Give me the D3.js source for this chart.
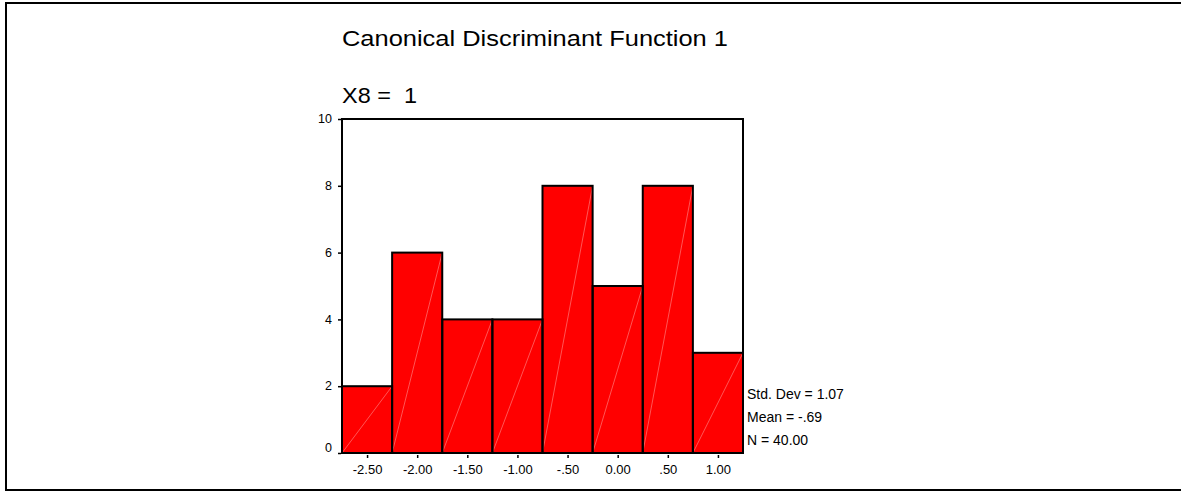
<!DOCTYPE html>
<html>
<head>
<meta charset="utf-8">
<script src="https://cdn.jsdelivr.net/npm/d3@7"></script>
<style>
  html, body { margin: 0; padding: 0; background: #fff; }
  svg { display: block; font-family: "Liberation Sans", Arial, sans-serif; }
</style>
</head>
<body>
<svg id="chart" width="1181" height="492"></svg>
<script>
// ---- data ----
const binCenters = [-2.5, -2.0, -1.5, -1.0, -0.5, 0.0, 0.5, 1.0];
const counts = [2, 6, 4, 4, 8, 5, 8, 3];
const xTickLabels = ["-2.50", "-2.00", "-1.50", "-1.00", "-.50", "0.00", ".50", "1.00"];
const yTicks = [0, 2, 4, 6, 8, 10];
const binWidth = 0.5;
const titleText = "Canonical Discriminant Function 1";
const subtitleText = "X8 =  1";
const statsLines = ["Std. Dev = 1.07", "Mean = -.69", "N = 40.00"];

// ---- layout ----
const svg = d3.select("#chart");
const plot = { left: 342, right: 743, top: 119, bottom: 453 };

const x = d3.scaleLinear()
  .domain([binCenters[0] - binWidth / 2, binCenters[binCenters.length - 1] + binWidth / 2])
  .range([plot.left, plot.right]);
const y = d3.scaleLinear().domain([0, 10]).range([plot.bottom, plot.top]);

// outer frame
svg.append("rect")
  .attr("x", 6).attr("y", 3).attr("width", 1190).attr("height", 487)
  .attr("fill", "none").attr("stroke", "#000").attr("stroke-width", 2);

// titles
svg.append("text").attr("x", 342).attr("y", 46)
  .attr("font-size", 22).attr("fill", "#000")
  .attr("textLength", 386).attr("lengthAdjust", "spacingAndGlyphs")
  .text(titleText);
svg.append("text").attr("x", 342).attr("y", 103)
  .attr("font-size", 22).attr("fill", "#000")
  .style("white-space", "pre")
  .attr("textLength", 75).attr("lengthAdjust", "spacingAndGlyphs")
  .text(subtitleText);

// bars
const bins = binCenters.map((c, i) => ({ x0: c - binWidth / 2, x1: c + binWidth / 2, n: counts[i] }));
const g = svg.append("g");
g.selectAll("rect.bar").data(bins).enter().append("rect")
  .attr("class", "bar")
  .attr("x", d => x(d.x0))
  .attr("y", d => y(d.n))
  .attr("width", d => x(d.x1) - x(d.x0))
  .attr("height", d => y(0) - y(d.n))
  .attr("fill", "#ff0000");
// faint diagonal hatch lines
g.selectAll("line.diag").data(bins).enter().append("line")
  .attr("class", "diag")
  .attr("x1", d => x(d.x0)).attr("y1", y(0))
  .attr("x2", d => x(d.x1)).attr("y2", d => y(d.n))
  .attr("stroke", "#ff8f8f").attr("stroke-width", 0.6);
g.selectAll("rect.barOutline").data(bins).enter().append("rect")
  .attr("class", "barOutline")
  .attr("x", d => x(d.x0))
  .attr("y", d => y(d.n))
  .attr("width", d => x(d.x1) - x(d.x0))
  .attr("height", d => y(0) - y(d.n))
  .attr("fill", "none").attr("stroke", "#000").attr("stroke-width", 2);

// plot frame
svg.append("rect")
  .attr("x", plot.left).attr("y", plot.top)
  .attr("width", plot.right - plot.left).attr("height", plot.bottom - plot.top)
  .attr("fill", "none").attr("stroke", "#000").attr("stroke-width", 2);

// y axis
const yAxis = svg.append("g")
  .attr("transform", `translate(${plot.left - 1},0)`)
  .call(d3.axisLeft(y).tickValues(yTicks).tickSize(3).tickPadding(6).tickFormat(d3.format("d")));
yAxis.select(".domain").remove();
yAxis.selectAll("text").attr("font-size", 12.5).attr("fill", "#000")
  .attr("font-family", "Liberation Sans, Arial, sans-serif")
  .attr("dy", d => d === 0 ? "-0.15em" : "0.3em");
yAxis.selectAll("line").attr("stroke", "#000").attr("stroke-width", 1.5);

// x axis
const xAxis = svg.append("g")
  .attr("transform", `translate(0,${plot.bottom + 2})`)
  .call(d3.axisBottom(x).tickValues(binCenters).tickSize(3).tickPadding(7)
    .tickFormat((d, i) => xTickLabels[i]));
xAxis.select(".domain").remove();
xAxis.selectAll("text").attr("font-size", 13).attr("fill", "#000")
  .attr("font-family", "Liberation Sans, Arial, sans-serif");
xAxis.selectAll("line").attr("stroke", "#000").attr("stroke-width", 1.5);

// stats
svg.selectAll("text.stat").data(statsLines).enter().append("text")
  .attr("class", "stat")
  .attr("x", 747).attr("y", (d, i) => 399 + i * 23)
  .attr("font-size", 14).attr("fill", "#000").text(d => d);
</script>
</body>
</html>
